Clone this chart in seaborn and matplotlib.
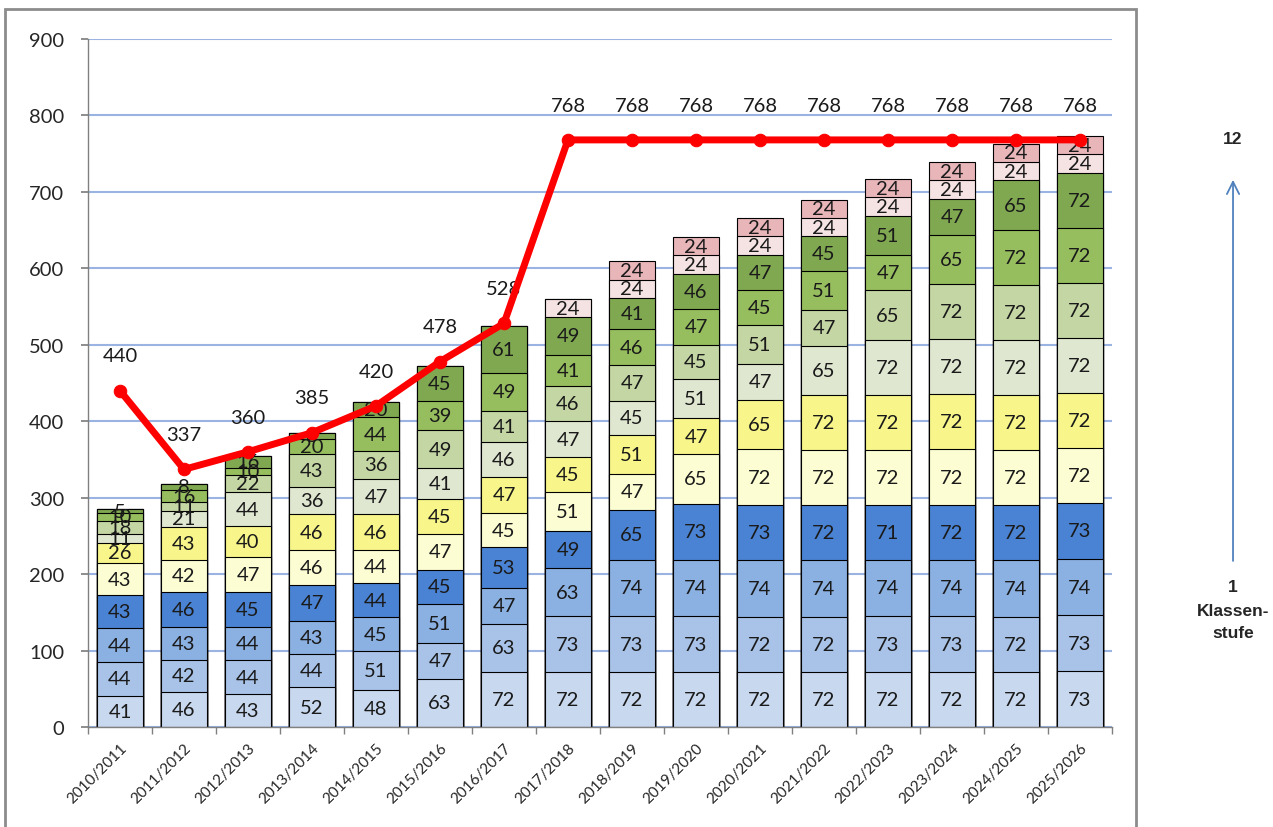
import numpy as np
import pandas as pd
import seaborn as sns
import matplotlib.pyplot as plt
from matplotlib.patches import Rectangle

# school years on the x axis
years = ["2010/2011", "2011/2012", "2012/2013", "2013/2014", "2014/2015", "2015/2016",
         "2016/2017", "2017/2018", "2018/2019", "2019/2020", "2020/2021", "2021/2022",
         "2022/2023", "2023/2024", "2024/2025", "2025/2026"]

# pupils per grade (Klassenstufe 1 .. 12), one list per grade
k1 = [41, 46, 43, 52, 48, 63, 72, 72, 72, 72, 72, 72, 72, 72, 72, 73]
k2 = [44, 42, 44, 44, 51, 47, 63, 73, 73, 73, 72, 72, 73, 73, 72, 73]
k3 = [44, 43, 44, 43, 45, 51, 47, 63, 74, 74, 74, 74, 74, 74, 74, 74]
k4 = [43, 46, 45, 47, 44, 45, 53, 49, 65, 73, 73, 72, 71, 72, 72, 73]
k5 = [43, 42, 47, 46, 44, 47, 45, 51, 47, 65, 72, 72, 72, 72, 72, 72]
k6 = [26, 43, 40, 46, 46, 45, 47, 45, 51, 47, 65, 72, 72, 72, 72, 72]
k7 = [11, 21, 44, 36, 47, 41, 46, 47, 45, 51, 47, 65, 72, 72, 72, 72]
k8 = [18, 11, 22, 43, 36, 49, 41, 46, 47, 45, 51, 47, 65, 72, 72, 72]
k9 = [10, 16, 10, 20, 44, 39, 49, 41, 46, 47, 45, 51, 47, 65, 72, 72]
k10 = [5, 8, 16, 8, 20, 45, 61, 49, 41, 46, 47, 45, 51, 47, 65, 72]
k11 = [0, 0, 0, 0, 0, 0, 0, 24, 24, 24, 24, 24, 24, 24, 24, 24]
k12 = [0, 0, 0, 0, 0, 0, 0, 0, 24, 24, 24, 24, 24, 24, 24, 24]

# red line (totals / capacity)
line_values = [440, 337, 360, 385, 420, 478, 528, 768, 768, 768, 768, 768, 768, 768, 768, 768]

grades = [k1, k2, k3, k4, k5, k6, k7, k8, k9, k10, k11, k12]
grade_colors = ["#c8d8ee", "#a9c3e8", "#8bb0e2", "#4a83d3",
                "#fdfdd4", "#f8f68a", "#dfe7d0", "#c4d6a4",
                "#96bd5e", "#80a850", "#f5e2e2", "#e8b5b9"]

sns.set_theme(style="white")
plt.rcParams["font.family"] = ["Lato", "DejaVu Sans"]

fig = plt.figure(figsize=(12.73, 8.28), dpi=100)
ax = fig.add_axes([0.0691, 0.1208, 0.8044, 0.8309])

# chart area frame
fig.patches.append(Rectangle((0.004, -0.02), 0.888, 1.008, transform=fig.transFigure,
                             fill=False, edgecolor="#8c8c8c", linewidth=2, zorder=0))

df = pd.DataFrame({f"k{i + 1}": g for i, g in enumerate(grades)})
df["year"] = years
cum = df[[f"k{i + 1}" for i in range(12)]].cumsum(axis=1)

# stacked bars: draw cumulative sums from top grade down
for i in range(11, -1, -1):
    sns.barplot(x=df["year"], y=cum[f"k{i + 1}"], color=grade_colors[i], saturation=1,
                edgecolor="black", linewidth=0.8, width=0.72, ax=ax, zorder=2)

# segment labels
for i in range(12):
    for j, v in enumerate(grades[i]):
        if v > 0:
            bottom = cum[f"k{i + 1}"].iloc[j] - v
            ax.text(j, bottom + v / 2, str(v), ha="center", va="center",
                    fontsize=14.5, color="#1a1a1a", zorder=4)

# red line with labels
xs = np.arange(len(years))
sns.lineplot(x=xs, y=line_values, color="red", linewidth=5, marker="o",
             markersize=9, markeredgecolor="red", ax=ax, zorder=5)
for x, v in zip(xs, line_values):
    ax.annotate(str(v), (x, v), xytext=(0, 25), textcoords="offset points",
                ha="center", va="center", fontsize=14.5, color="#1a1a1a")

ax.set_xlim(-0.5, len(years) - 0.5)
ax.set_ylim(0, 900)
ax.set_yticks(range(0, 1000, 100))
ax.yaxis.grid(True, color="#9ab3e3", linewidth=1.5, zorder=0)
ax.set_axisbelow(True)
ax.set_xlabel("")
ax.set_ylabel("")

ax.set_xticks(xs)
ax.set_xticklabels(years, rotation=45, ha="right", rotation_mode="anchor", fontsize=11)
ax.set_xticks(np.arange(-0.5, len(years), 1), minor=True)
ax.tick_params(axis="x", which="major", length=0, pad=10)
ax.tick_params(axis="x", which="minor", length=5, color="#808080", bottom=True)
ax.tick_params(axis="y", length=5, color="#808080", left=True, labelsize=14.5, pad=12)

for side in ["top", "right"]:
    ax.spines[side].set_visible(False)
for side in ["left", "bottom"]:
    ax.spines[side].set_color("#808080")
    ax.spines[side].set_linewidth(1)

# Klassenstufe arrow at right
side_font = dict(ha="center", va="center", fontsize=12.5, fontweight="bold",
                 family=["Liberation Sans"])
fig.text(0.9686, 0.831, "12", **side_font)
ax.annotate("", xy=(0.9686, 0.785), xytext=(0.9686, 0.318), xycoords="figure fraction",
            arrowprops=dict(arrowstyle="->", color="#4f81bd", lw=1.3, mutation_scale=22))
fig.text(0.9686, 0.29, "1", **side_font)
fig.text(0.9686, 0.261, "Klassen-", **side_font)
fig.text(0.9686, 0.2355, "stufe", **side_font)

fig.savefig("out.png", dpi=100)
